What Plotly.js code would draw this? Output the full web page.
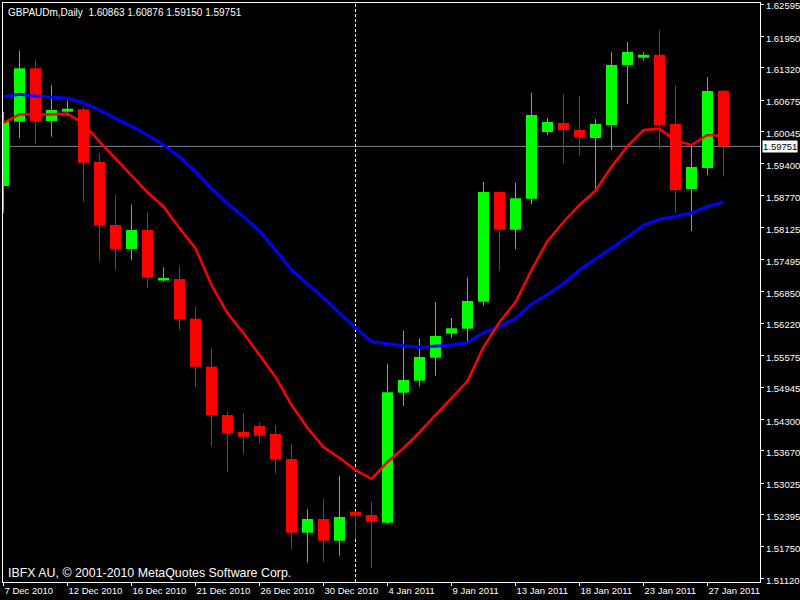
<!DOCTYPE html>
<html><head><meta charset="utf-8">
<script src="https://cdn.plot.ly/plotly-3.0.1.min.js"></script>
<style>html,body{margin:0;padding:0;background:#000;}#chart{width:800px;height:600px;}</style>
</head><body><div id="chart"></div>
<script>
const dates = ['7 Dec 2010','8 Dec 2010','9 Dec 2010','10 Dec 2010','12 Dec 2010','13 Dec 2010','14 Dec 2010','15 Dec 2010','16 Dec 2010','17 Dec 2010','19 Dec 2010','20 Dec 2010','21 Dec 2010','22 Dec 2010','23 Dec 2010','24 Dec 2010','26 Dec 2010','27 Dec 2010','28 Dec 2010','29 Dec 2010','30 Dec 2010','31 Dec 2010','2 Jan 2011','3 Jan 2011','4 Jan 2011','5 Jan 2011','6 Jan 2011','7 Jan 2011','9 Jan 2011','10 Jan 2011','11 Jan 2011','12 Jan 2011','13 Jan 2011','14 Jan 2011','16 Jan 2011','17 Jan 2011','18 Jan 2011','19 Jan 2011','20 Jan 2011','21 Jan 2011','23 Jan 2011','24 Jan 2011','25 Jan 2011','26 Jan 2011','27 Jan 2011','28 Jan 2011'];

const openP  = [1.58960,1.60244,1.61311,1.60258,1.60444,1.60492,1.59439,1.58181,1.57702,1.58081,1.57072,1.57102,1.56309,1.55351,1.54386,1.54052,1.54166,1.54006,1.53507,1.52035,1.52309,1.51875,1.52454,1.52388,1.52235,1.54831,1.55071,1.55530,1.56010,1.56110,1.56649,1.58840,1.58087,1.58706,1.60038,1.60218,1.60078,1.59919,1.60178,1.61377,1.61523,1.61582,1.60198,1.58900,1.59319,1.60863];
const highP  = [1.60438,1.61662,1.61490,1.60977,1.60664,1.60544,1.59613,1.58780,1.58586,1.58435,1.57336,1.57368,1.56549,1.55718,1.54452,1.54420,1.54232,1.54186,1.53807,1.52508,1.52708,1.53173,1.52462,1.52654,1.55405,1.56064,1.55918,1.56637,1.56323,1.57136,1.59040,1.58854,1.59026,1.60823,1.60324,1.60797,1.60758,1.60298,1.61636,1.61836,1.61636,1.62076,1.60977,1.59745,1.61137,1.60876];
const lowP   = [1.58421,1.59913,1.59799,1.59945,1.60358,1.58646,1.57448,1.57282,1.57482,1.56917,1.57048,1.56084,1.54951,1.53753,1.53253,1.53607,1.53821,1.53221,1.51703,1.51436,1.51456,1.51575,1.51903,1.51324,1.52209,1.54566,1.54951,1.55171,1.55930,1.55798,1.56569,1.57268,1.57696,1.58600,1.59978,1.59399,1.59559,1.58880,1.59679,1.60598,1.61463,1.59699,1.58421,1.58061,1.59180,1.59150];
const closeP = [1.60258,1.61311,1.60258,1.60478,1.60504,1.59425,1.58167,1.57702,1.58081,1.57128,1.57122,1.56297,1.55351,1.54386,1.54020,1.53952,1.53972,1.53501,1.52035,1.52309,1.51875,1.52348,1.52374,1.52255,1.54839,1.55085,1.55544,1.55964,1.56118,1.56663,1.58840,1.58087,1.58714,1.60378,1.60238,1.60078,1.59939,1.60198,1.61377,1.61636,1.61582,1.60178,1.58880,1.59339,1.60857,1.59751];

const maRed  = [1.60218,1.60388,1.60388,1.60388,1.60408,1.60198,1.59845,1.59513,1.59180,1.58834,1.58546,1.58115,1.57715,1.56982,1.56417,1.56018,1.55584,1.55145,1.54586,1.54126,1.53747,1.53527,1.53287,1.53108,1.53447,1.53727,1.54046,1.54386,1.54705,1.55065,1.55744,1.56243,1.56643,1.57282,1.57861,1.58241,1.58580,1.58866,1.59345,1.59759,1.60078,1.60104,1.59865,1.59779,1.59978,1.59958];
const maBlue = [1.60744,1.60792,1.60758,1.60732,1.60712,1.60624,1.60478,1.60312,1.60158,1.59978,1.59779,1.59545,1.59246,1.58914,1.58614,1.58347,1.58061,1.57682,1.57282,1.57002,1.56723,1.56423,1.56124,1.55850,1.55804,1.55770,1.55738,1.55754,1.55784,1.55834,1.56034,1.56154,1.56313,1.56603,1.56793,1.57012,1.57282,1.57502,1.57721,1.57941,1.58181,1.58295,1.58351,1.58421,1.58550,1.58646];

const yTickVals = [1.62595,1.61950,1.61320,1.60675,1.60045,1.59400,1.58770,1.58125,1.57495,1.56850,1.56220,1.55575,1.54945,1.54300,1.53670,1.53025,1.52395,1.51750,1.51120];
const yTickText = ['1.62595','1.61950','1.61320','1.60675','1.60045','1.59400','1.58770','1.58125','1.57495','1.56850','1.56220','1.55575','1.54945','1.54300','1.53670','1.53025','1.52395','1.51750','1.51120'];
const symbolLabel = 'GBPAUDm,Daily';
const copyright = 'IBFX AU, \u00a9 2001-2010 MetaQuotes Software Corp.';
const separatorDate = '2 Jan 2011';
const labelEvery = 4;

const idx = dates.map((d, i) => i);
const n = dates.length;
const last = n - 1;

const up = {x: [], base: [], h: [], wx: [], wy: []};
const dn = {x: [], base: [], h: [], wx: [], wy: []};
for (let i = 0; i < n; i++) {
  const g = closeP[i] >= openP[i] ? up : dn;
  g.x.push(idx[i]);
  g.base.push(Math.min(openP[i], closeP[i]));
  g.h.push(Math.abs(closeP[i] - openP[i]));
  g.wx.push(idx[i], idx[i], null);
  g.wy.push(lowP[i], highP[i], null);
}
const GREEN = '#00ff00', RED = '#ff0000';
const bodyW = 0.69;
const traces = [
  {type: 'scatter', mode: 'lines', x: up.wx, y: up.wy, line: {color: GREEN, width: 1}, hoverinfo: 'skip', connectgaps: false},
  {type: 'scatter', mode: 'lines', x: dn.wx, y: dn.wy, line: {color: RED, width: 1}, hoverinfo: 'skip', connectgaps: false},
  {type: 'bar', x: up.x, y: up.h, base: up.base, width: bodyW, marker: {color: GREEN, line: {width: 0}}, hoverinfo: 'skip'},
  {type: 'bar', x: dn.x, y: dn.h, base: dn.base, width: bodyW, marker: {color: RED, line: {width: 0}}, hoverinfo: 'skip'},
  {type: 'scatter', mode: 'lines', x: idx, y: maBlue, line: {color: '#0000ff', width: 3}, hoverinfo: 'skip'},
  {type: 'scatter', mode: 'lines', x: idx, y: maRed, line: {color: '#ff0000', width: 2.5}, hoverinfo: 'skip'}
];

const tickVals = idx.filter(i => i % labelEvery === 0);
const tickText = tickVals.map(i => dates[i]);
const FONT = 'Tahoma, "Liberation Sans", Arial, sans-serif';
const fmt = v => v.toFixed(5);

const layout = {
  width: 800, height: 600,
  paper_bgcolor: '#000000', plot_bgcolor: '#000000',
  margin: {l: 3, r: 40, t: 3, b: 18, pad: 0},
  showlegend: false,
  barmode: 'overlay',
  font: {family: FONT, color: '#ffffff', size: 10},
  xaxis: {
    range: [-0.03125, 47.28], showgrid: false, zeroline: false,
    showline: true, linecolor: '#ffffff', linewidth: 1, mirror: true,
    ticks: 'outside', ticklen: 3, tickcolor: '#ffffff', tickwidth: 1,
    tickmode: 'array', tickvals: tickVals, ticktext: tickText,
    ticklabelposition: 'outside right', ticklabeloverflow: 'allow',
    tickfont: {family: FONT, size: 9.5, color: '#ffffff'}, fixedrange: true
  },
  yaxis: {
    side: 'right', range: [1.51050, 1.62615], showgrid: false, zeroline: false,
    showline: true, linecolor: '#ffffff', linewidth: 1, mirror: true,
    ticks: 'outside', ticklen: 3, tickcolor: '#ffffff', tickwidth: 1,
    tickmode: 'array', tickvals: yTickVals, ticktext: yTickText,
    ticklabeloverflow: 'allow', ticklabelshift: 2,
    tickfont: {family: FONT, size: 9.5, color: '#ffffff'}, fixedrange: true
  },
  shapes: [
    {type: 'line', xref: 'paper', x0: 0, x1: 1, yref: 'y', y0: closeP[last], y1: closeP[last],
     line: {color: '#778899', width: 1}, layer: 'below'},
    {type: 'line', xref: 'x', x0: dates.indexOf(separatorDate), x1: dates.indexOf(separatorDate), yref: 'paper', y0: 0, y1: 1,
     line: {color: '#ffffff', width: 1, dash: '3px,2px'}, layer: 'below'}
  ],
  annotations: [
    {xref: 'paper', yref: 'paper', x: 0, y: 1, xanchor: 'left', yanchor: 'top', xshift: 3, yshift: -2,
     showarrow: false, text: symbolLabel + '\u00a0\u00a0' + [openP[last], highP[last], lowP[last], closeP[last]].map(fmt).join(' '),
     font: {family: FONT, size: 10, color: '#ffffff'}},
    {xref: 'paper', yref: 'paper', x: 0, y: 0, xanchor: 'left', yanchor: 'bottom', xshift: 3, yshift: 0,
     showarrow: false, text: copyright, font: {family: FONT, size: 12.4, color: '#ffffff'}},
    {xref: 'paper', yref: 'y', x: 1, y: closeP[last], xanchor: 'left', yanchor: 'middle', xshift: 2,
     showarrow: false, text: fmt(closeP[last]), bgcolor: '#ffffff', borderpad: 0,
     font: {family: FONT, size: 9.5, color: '#000000'}}
  ]
};

Plotly.newPlot('chart', traces, layout, {staticPlot: true, displayModeBar: false});
</script>
</body></html>
